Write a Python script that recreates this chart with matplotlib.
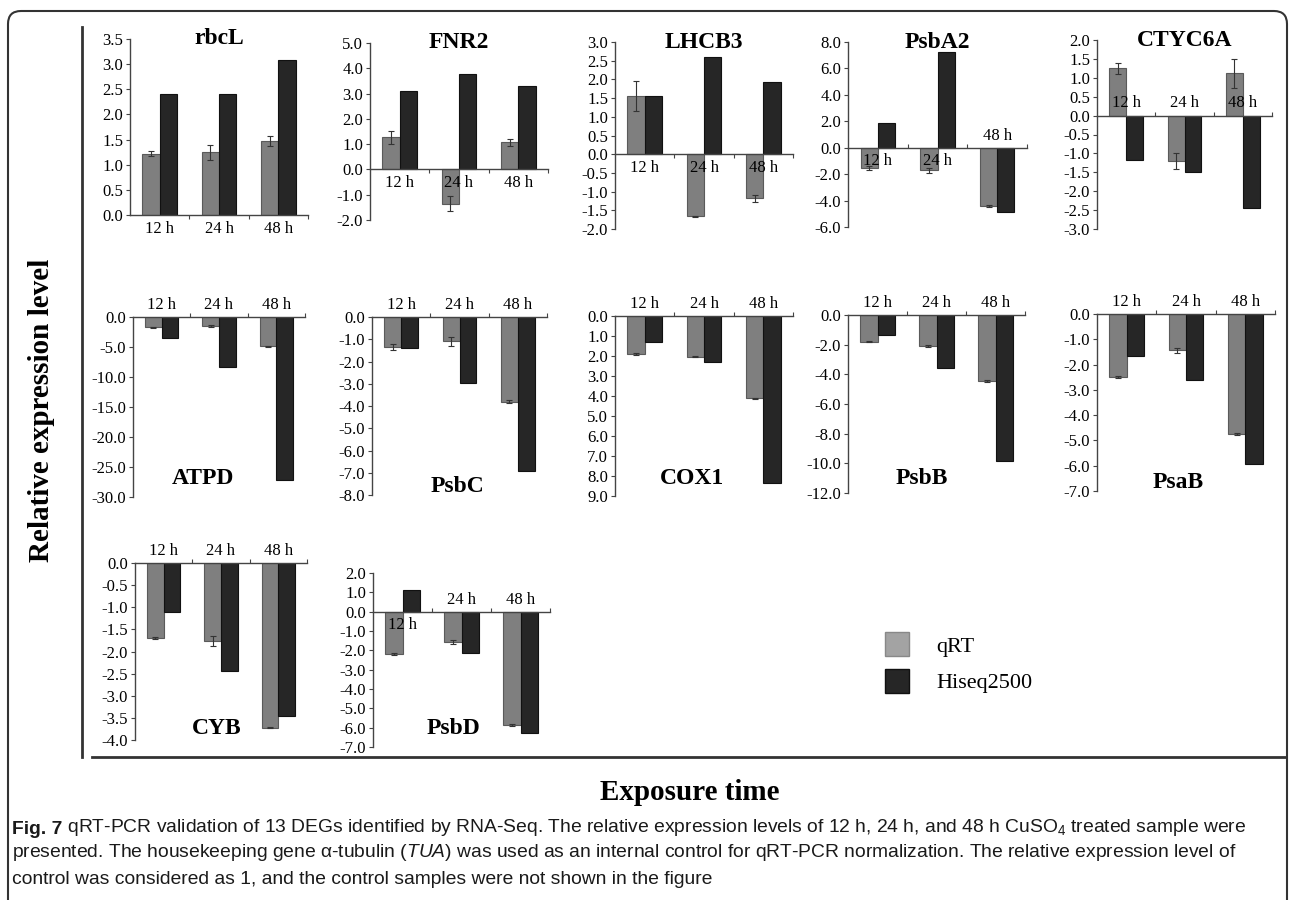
import numpy as np
import matplotlib
matplotlib.use('Agg')
import matplotlib.pyplot as plt
from matplotlib.patches import Patch, FancyBboxPatch
from matplotlib.lines import Line2D
from matplotlib.ticker import FuncFormatter, MultipleLocator

# data
genes = ['rbcL', 'FNR2', 'LHCB3', 'PsbA2', 'CTYC6A',
         'ATPD', 'PsbC', 'COX1', 'PsbB', 'PsaB',
         'CYB', 'PsbD']
hours = ['12 h', '24 h', '48 h']
qrt = [[1.22, 1.25, 1.47], [1.27, -1.35, 1.07], [1.55, -1.66, -1.18],
       [-1.55, -1.70, -4.40], [1.25, -1.20, 1.12],
       [-1.7, -1.5, -4.9], [-1.35, -1.10, -3.80], [-1.90, -2.03, -4.12],
       [-1.80, -2.10, -4.45], [-2.50, -1.43, -4.73],
       [-1.70, -1.76, -3.72], [-2.17, -1.55, -5.85]]
qrt_err = [[0.05, 0.15, 0.10], [0.25, 0.30, 0.15], [0.40, 0.02, 0.10],
           [0.15, 0.20, 0.05], [0.15, 0.20, 0.38],
           [0.10, 0.10, 0.10], [0.12, 0.20, 0.08], [0.05, 0.04, 0.02],
           [0.05, 0.05, 0.05], [0.04, 0.10, 0.04],
           [0.02, 0.12, 0.02], [0.05, 0.10, 0.05]]
hiseq = [[2.40, 2.40, 3.08], [3.12, 3.78, 3.28], [1.55, 2.59, 1.92],
         [1.90, 7.25, -4.85], [-1.18, -1.50, -2.45],
         [-3.5, -8.4, -27.2], [-1.40, -2.95, -6.90], [-1.30, -2.30, -8.35],
         [-1.35, -3.55, -9.85], [-1.65, -2.60, -5.93],
         [-1.10, -2.44, -3.46], [1.12, -2.14, -6.30]]
y_limits = [(0, 3.5), (-2, 5), (-2, 3), (-6, 8), (-3, 2),
            (-30, 0), (-8, 0), (-9, 0), (-12, 0), (-7, 0),
            (-4, 0), (-7, 2)]
y_steps = [0.5, 1, 0.5, 2, 0.5, 5, 1, 1, 2, 1, 0.5, 1]

W, H = 1290, 900
fig = plt.figure(figsize=(W / 100, H / 100), dpi=100)
serif = 'Liberation Serif'
plt.rcParams['font.family'] = serif
plt.rcParams['mathtext.fontset'] = 'custom'
plt.rcParams['mathtext.rm'] = 'Liberation Sans'
plt.rcParams['mathtext.it'] = 'Liberation Sans:italic'


def px_box(l, t, r, b):
    return [l / W, 1 - b / H, (r - l) / W, (b - t) / H]


# axes rectangles in pixels (left, top, right, bottom)
rects = [(130, 39, 308, 215), (370, 43, 548, 220), (615, 42, 793, 229),
         (848, 42, 1027, 227), (1097, 40, 1272, 229),
         (133, 317, 305, 497), (372, 317, 547, 495), (615, 316, 793, 496),
         (848, 315, 1025, 493), (1097, 314, 1275, 491),
         (135, 563, 307, 740), (373, 573, 550, 747)]
# where the hour labels sit relative to the zero line
sides = ['bbb', 'bbb', 'bbb', 'bba', 'aaa',
         'aaa', 'aaa', 'aaa', 'aaa', 'aaa',
         'aaa', 'baa']
# titles of the lower panels (pixel centres)
low_titles = {5: (203, 478), 6: (457, 486), 7: (692, 478), 8: (922, 478),
              9: (1178, 482), 10: (217, 728), 11: (453, 728)}

c_q, c_h = '#7f7f7f', '#262626'
bw = 0.29
x = np.arange(3)

for i, g in enumerate(genes):
    ax = fig.add_axes(px_box(*rects[i]))
    ax.patch.set_alpha(0)
    ax.bar(x - bw / 2, qrt[i], bw, color=c_q, edgecolor='#5a5a5a', lw=0.8,
           yerr=qrt_err[i], error_kw=dict(elinewidth=0.8, capsize=2, capthick=0.8, ecolor='#333333'))
    ax.bar(x + bw / 2, hiseq[i], bw, color=c_h, edgecolor='#111111', lw=0.8)
    ax.set_xlim(-0.5, 2.5)
    ax.set_ylim(*y_limits[i])
    ax.yaxis.set_major_locator(MultipleLocator(y_steps[i]))
    if g == 'COX1':
        ax.yaxis.set_major_formatter(FuncFormatter(lambda v, p: f'{abs(round(v, 1)):.1f}'))
    else:
        ax.yaxis.set_major_formatter(FuncFormatter(lambda v, p: f'{round(v, 1) + 0.0:.1f}'))
    for s in ['top', 'right']:
        ax.spines[s].set_visible(False)
    ax.spines['bottom'].set_position(('data', 0))
    for s in ['left', 'bottom']:
        ax.spines[s].set_color('#444444')
        ax.spines[s].set_linewidth(1.0)
    ax.set_xticks([0.5, 1.5, 2.5])
    ax.set_xticklabels([])
    ax.tick_params(axis='x', direction='out' if i < 3 else 'in', length=3, color='#444444')
    ax.tick_params(axis='y', direction='out', length=3, color='#444444', labelsize=12, pad=2)
    for j, side in enumerate(sides[i]):
        if side == 'b':
            ax.annotate(hours[j], (j, 0), xytext=(0, -4), textcoords='offset points',
                        ha='center', va='top', fontsize=12)
        else:
            ax.annotate(hours[j], (j, 0), xytext=(0, 3), textcoords='offset points',
                        ha='center', va='bottom', fontsize=12)
    if i < 5:
        ax.text(0.5, 1.0, g, transform=ax.transAxes, ha='center', va='center',
                fontsize=17, fontweight='bold')
    else:
        tx, ty = low_titles[i]
        fig.text(tx / W, 1 - ty / H, g, ha='center', va='center', fontsize=17, fontweight='bold')

# legend
fig.legend(handles=[Patch(fc='#a3a3a3', ec='#888888'), Patch(fc=c_h, ec='#111111')],
           labels=['qRT', 'Hiseq2500'], loc='upper left', bbox_to_anchor=(865 / W, 1 - 612 / H),
           frameon=False, fontsize=16, handlelength=1.1, handleheight=1.3,
           labelspacing=0.55, handletextpad=1.2)

# axis titles and frame lines
fig.text(42 / W, 1 - 410 / H, 'Relative expression level', rotation=90, ha='center', va='center',
         fontsize=21, fontweight='bold')
fig.text(690 / W, 1 - 792 / H, 'Exposure time', ha='center', va='center',
         fontsize=21, fontweight='bold')
fig.add_artist(Line2D([82 / W, 82 / W], [1 - 27 / H, 1 - 757 / H], color='#333333', lw=2))
fig.add_artist(Line2D([92 / W, 1285 / W], [1 - 757 / H, 1 - 757 / H], color='#333333', lw=2))
fig.add_artist(FancyBboxPatch((0.08, -0.5), 12.79, 9.39, boxstyle='round,pad=0,rounding_size=0.13',
                              transform=fig.dpi_scale_trans, fill=False, ec='#333333', lw=1.5))

# caption
cap_font = ['Liberation Sans', 'DejaVu Sans']
cap_size = 13.9
cap = fig.add_axes([0, 0, 1, 1])
cap.axis('off')
t = fig.text(12 / W, 1 - 838 / H, 'Fig. 7', family=cap_font, fontweight='bold',
             fontsize=cap_size, color='#1a1a1a', va='bottom')
cap.annotate(' qRT-PCR validation of 13 DEGs identified by RNA-Seq. The relative expression levels '
             'of 12 h, 24 h, and 48 h CuSO$_4$ treated sample were',
             xy=(1, 0), xycoords=t, va='bottom', ha='left', family=cap_font, fontsize=cap_size,
             color='#1a1a1a')
fig.text(12 / W, 1 - 863 / H, 'presented. The housekeeping gene \u03b1-tubulin ($\\mathit{TUA}$) was used as an '
         'internal control for qRT-PCR normalization. The relative expression level of',
         family=cap_font, fontsize=cap_size, color='#1a1a1a', va='bottom')
fig.text(12 / W, 1 - 888 / H, 'control was considered as 1, and the control samples were not shown in the figure',
         family=cap_font, fontsize=cap_size, color='#1a1a1a', va='bottom')

fig.savefig('out.png', dpi=100)
